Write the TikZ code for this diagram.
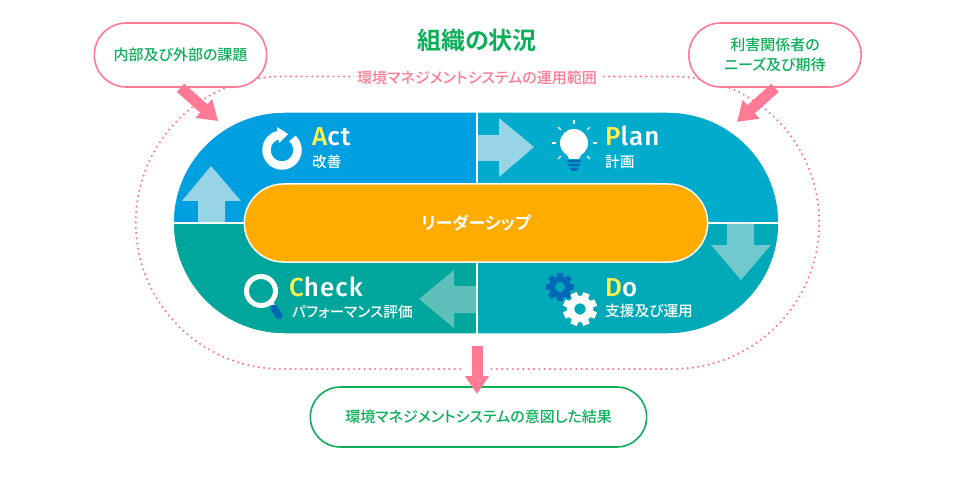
\documentclass[tikz,border=0pt]{standalone}
\usepackage{fontspec}
\setmainfont{Fira Sans Medium}
\newfontfamily\headfont[LetterSpace=4]{Fira Sans Medium}
\newfontfamily\jpfont[RawFeature=+palt]{Noto Sans CJK JP Medium}
\newfontfamily\jpbold[RawFeature=+palt]{Noto Sans CJK JP Bold}
\usetikzlibrary{arrows.meta,shapes.misc}
\definecolor{actblue}{HTML}{009FE0}
\definecolor{planblue}{HTML}{00ABCC}
\definecolor{checkgreen}{HTML}{00A69C}
\definecolor{doblue}{HTML}{00A9B8}
\definecolor{leadorange}{HTML}{FFAB00}
\definecolor{rosepink}{HTML}{FF7A95}
\definecolor{textgreen}{HTML}{0DAF5A}
\definecolor{iconblue}{HTML}{0068B7}
\definecolor{capyellow}{HTML}{FFF04B}
\definecolor{paleact}{HTML}{97D4E5}
\definecolor{paledo}{HTML}{72C8CF}
\definecolor{palecheck}{HTML}{5FC0BA}
\begin{document}
\begin{tikzpicture}[
  x=1pt, y=-1pt,
  callout/.style={draw=rosepink, line width=1.6pt, fill=white, rounded rectangle, minimum width=179pt, minimum height=64pt, align=center, text=textgreen, font=\jpfont\fontsize{15}{19.5}\selectfont},
  result/.style={callout, draw=textgreen, minimum width=343pt, minimum height=60pt},
  quarter/.style={draw=white, line width=1.5pt},
  pagearrow/.style={line width=11pt, draw=rosepink, -{Triangle[length=19pt,width=24pt]}},
  head/.style={anchor=base west, inner sep=0pt, text=white, font=\headfont\fontsize{26}{26}\selectfont},
  sub/.style={anchor=west, inner sep=0pt, text=white, font=\jpfont\fontsize{14.7}{16}\selectfont}
]
\useasboundingbox (0,0) rectangle (954,484);
\draw[rosepink, line width=2.4pt, dash pattern=on 0pt off 5.3pt, line cap=round] (460,369) -- (282,369) arc[start angle=90, end angle=270, radius=146.25] -- (673,76.5) arc[start angle=-90, end angle=90, radius=146.25] -- (490,369);
\fill[quarter, fill=actblue] (477,112) -- (284,112) arc[start angle=270, end angle=180, radius=111] -- (477,223) -- cycle;
\fill[quarter, fill=planblue] (477,112) -- (668,112) arc[start angle=270, end angle=360, radius=111] -- (477,223) -- cycle;
\fill[quarter, fill=checkgreen] (173,223) arc[start angle=180, end angle=90, radius=111] -- (477,334) -- (477,223) -- cycle;
\fill[quarter, fill=doblue] (779,223) arc[start angle=0, end angle=90, radius=111] -- (477,334) -- (477,223) -- cycle;
\draw[quarter] (173,223) -- (779,223);
\draw[white, line width=2.4pt] (477,112) -- (477,334);
\fill[paleact] (211,166) -- (241,201) -- (225,201) -- (225,222) -- (198,222) -- (198,201) -- (182,201) -- cycle;
\fill[paleact] (534,147) -- (499,177) -- (499,161) -- (478,161) -- (478,135) -- (499,135) -- (499,118) -- cycle;
\fill[paledo] (741,280) -- (711,245) -- (727,245) -- (727,224) -- (754,224) -- (754,245) -- (771,245) -- cycle;
\fill[palecheck] (419,299) -- (454,270) -- (454,286) -- (476,286) -- (476,313) -- (454,313) -- (454,328) -- cycle;
\node[draw=white, line width=1.5pt, fill=leadorange, rounded rectangle, minimum width=470pt, minimum height=78pt, text=white, font=\jpbold\fontsize{17}{18}\selectfont] (leader) at (476,223) {リーダーシップ};
\node[callout] (issues) at (180.5,55) {内部及び外部の課題};
\node[callout] (needs) at (775,55) {利害関係者の\\ニーズ及び期待};
\node[result] (outcome) at (478.5,417) {環境マネジメントシステムの意図した結果};
\node[text=textgreen, font=\jpbold\fontsize{24}{26}\selectfont] (title) at (477,40) {組織の状況};
\node[fill=white, inner xsep=3pt, inner ysep=1pt, text=rosepink, font=\jpfont\fontsize{15}{16}\selectfont] (scope) at (477,78) {環境マネジメントシステムの運用範囲};
\coordinate (tipissues) at (218,121);
\coordinate (tipneeds) at (737,122);
\coordinate (outstart) at (477,346);
\coordinate (outend) at (477,394);
\draw[pagearrow] (issues.south) -- (tipissues);
\draw[pagearrow] (needs.south) -- (tipneeds);
\draw[pagearrow, -{Triangle[length=18pt,width=23pt]}] (outstart) -- (outend);
\node[head] (act) at (312,146) {\textcolor{capyellow}{A}ct};
\node[sub] (actsub) at (312,162) {改善};
\node[head] (plan) at (605,146) {\textcolor{capyellow}{P}lan};
\node[sub] (plansub) at (605,162) {計画};
\node[head] (check) at (289,296) {\textcolor{capyellow}{C}heck};
\node[sub] (checksub) at (292,312) {パフォーマンス評価};
\node[head] (do) at (605,296) {\textcolor{capyellow}{D}o};
\node[sub] (dosub) at (605,311) {支援及び運用};
\draw[white, line width=8.5pt] (282,150) ++(-48:15.5) arc[start angle=-48, end angle=262, radius=15.5];
\fill[white] (277,127) -- (288,134) -- (279,143) -- cycle;
\foreach \a in {0,45,135,180,225,270,315}
  \draw[white, line width=1.2pt] (574,143) ++(\a:18.5) -- ++(\a:4);
\fill[white] (574,143) circle (14) (566,153) -- (582,153) -- (579,159) -- (569,159) -- cycle;
\fill[iconblue] (567,160) -- (581,160) -- (580,162.5) -- (568,162.5) -- cycle (568,164) -- (580,164) -- (579,166.5) -- (569,166.5) -- cycle (569.5,168) -- (578.5,168) -- (576,171) -- (572,171) -- cycle;
\draw[white, line width=3pt] (271,302) -- (275,307);
\draw[iconblue, line width=7pt, line cap=round] (274,308) -- (279,316);
\draw[white, line width=5pt] (261,291) circle (14.5);
\foreach \a in {0,45,...,315}
  \draw[iconblue, line width=6pt] (560,287) ++(\a:9) -- ++(\a:5);
\draw[iconblue, line width=6pt] (560,287) circle (8);
\foreach \a in {22.5,67.5,...,360}
  \draw[white, line width=7pt] (580,309) ++(\a:10) -- ++(\a:7);
\draw[white, line width=7.5pt] (580,309) circle (9.5);
\end{tikzpicture}
\end{document}
